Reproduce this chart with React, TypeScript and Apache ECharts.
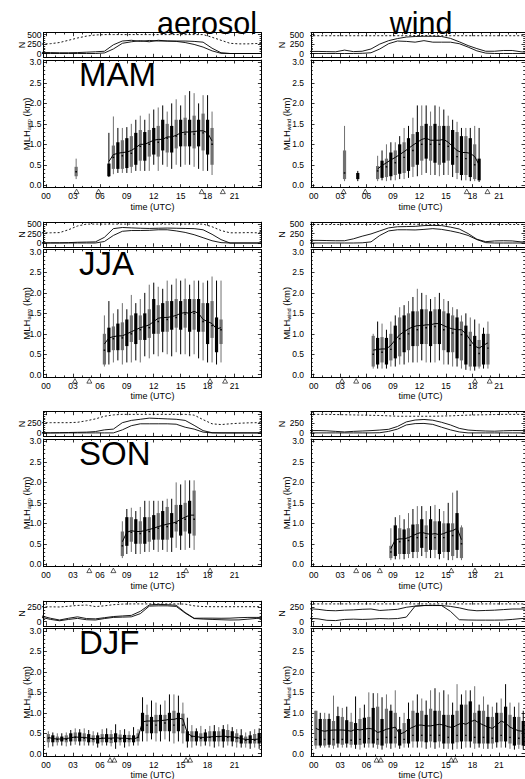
import React, { useEffect, useRef } from "react";
import * as echarts from "echarts";

// ---------- data ----------
const N_T = [-0.5, 0.5, 1.5, 2.5, 3.5, 4.5, 5.5, 6.5, 7.5, 8.5, 9.5, 10.5, 11.5, 12.5, 13.5, 14.5, 15.5, 16.5, 17.5, 18.5, 19.5, 20.5, 21.5, 22.5, 23.5, 24.5];

const X_MAJOR = [0, 3, 6, 9, 12, 15, 18, 21];
const X_MINOR = [1, 2, 4, 5, 7, 8, 10, 11, 13, 14, 16, 17, 19, 20, 22, 23];
const MLH_MAJOR = [0, 0.5, 1, 1.5, 2, 2.5, 3];
const MLH_MINOR = [0.1, 0.2, 0.3, 0.4, 0.6, 0.7, 0.8, 0.9, 1.1, 1.2, 1.3, 1.4, 1.6, 1.7, 1.8, 1.9, 2.1, 2.2, 2.3, 2.4, 2.6, 2.7, 2.8, 2.9];
const N_MINOR = [50, 100, 150, 200, 300, 350, 400, 450, 550];

const SEASONS = ["MAM", "JJA", "SON", "DJF"];
const COLUMN_TITLES = ["aerosol", "wind"];
const MLH_SUBSCRIPTS = ["aero", "wind"];

const N_RANGE = [[-100, 550], [-100, 550], [-90, 560], [-70, 355]];
const N_TICKS = [[0, 250, 500], [0, 250, 500], [0, 250, 500], [0, 250]];
const N_LABELS = [[0, 250, 500], [0, 250, 500], [0, 250], [0, 250]];

const TRI_MAM = [3.4, 5.85, 17.35, 19.7];
const TRI_JJA = [3.22, 4.82, 18.28, 19.95];
const TRI_SON = [4.82, 7.5, 15.6, 18.28];
const TRI_DJF = [7.13, 7.61, 15.6, 16.05];

// box rows: [time, whisker low, q1, median, q3, whisker high, mean]
const MAM_AERO = [
  [3.35, 0.15, 0.22, 0.33, 0.45, 0.65, null],
  [7.0, 0.2, 0.22, 0.35, 0.53, 1.28, 0.58],
  [7.5, 0.27, 0.4, 0.68, 0.97, 1.68, 0.75],
  [8.0, 0.3, 0.4, 0.7, 1.05, 1.4, 0.78],
  [8.5, 0.3, 0.4, 0.72, 1.1, 1.4, 0.8],
  [9.0, 0.3, 0.42, 0.72, 1.15, 1.42, 0.81],
  [9.5, 0.3, 0.45, 0.78, 1.2, 1.5, 0.85],
  [10.0, 0.35, 0.5, 0.85, 1.28, 1.6, 0.92],
  [10.5, 0.35, 0.6, 0.95, 1.35, 1.7, 1.0],
  [11.0, 0.35, 0.6, 0.95, 1.3, 1.6, 1.0],
  [11.5, 0.35, 0.7, 1.0, 1.35, 1.75, 1.05],
  [12.0, 0.5, 0.75, 1.05, 1.4, 1.85, 1.1],
  [12.5, 0.35, 0.7, 1.05, 1.45, 1.9, 1.12],
  [13.0, 0.5, 0.85, 1.1, 1.6, 1.95, 1.12],
  [13.5, 0.45, 0.8, 1.15, 1.5, 1.8, 1.18],
  [14.0, 0.4, 0.8, 1.15, 1.45, 2.0, 1.18],
  [14.5, 0.5, 0.9, 1.2, 1.6, 2.1, 1.22],
  [15.0, 0.45, 0.95, 1.25, 1.6, 1.95, 1.28],
  [15.5, 0.5, 0.95, 1.25, 1.65, 2.2, 1.3],
  [16.0, 0.5, 0.95, 1.25, 1.6, 2.3, 1.3],
  [16.5, 0.45, 0.9, 1.25, 1.7, 2.25, 1.31],
  [17.0, 0.4, 0.95, 1.28, 1.6, 2.0, 1.33],
  [17.5, 0.35, 0.85, 1.28, 1.75, 2.2, 1.33],
  [18.0, 0.35, 0.75, 1.25, 1.6, 2.2, 1.28],
  [18.5, 0.25, 0.5, 1.0, 1.4, 1.8, 1.08],
];

const MAM_WIND = [
  [3.5, 0.1, 0.15, 0.3, 0.85, 1.45, null],
  [5.0, 0.1, 0.15, 0.22, 0.3, 0.35, null],
  [7.25, 0.1, 0.15, 0.35, 0.47, 0.72, 0.4],
  [7.75, 0.12, 0.18, 0.4, 0.6, 0.85, 0.48],
  [8.25, 0.1, 0.2, 0.45, 0.65, 1.0, 0.55],
  [8.75, 0.12, 0.22, 0.5, 0.8, 1.05, 0.62],
  [9.25, 0.12, 0.25, 0.55, 0.85, 1.05, 0.68],
  [9.75, 0.15, 0.28, 0.62, 1.0, 1.2, 0.75],
  [10.25, 0.15, 0.3, 0.68, 1.05, 1.4, 0.82],
  [10.75, 0.18, 0.35, 0.75, 1.15, 1.45, 0.9],
  [11.25, 0.2, 0.45, 0.85, 1.25, 1.65, 0.98],
  [11.75, 0.22, 0.5, 0.95, 1.3, 1.95, 1.05],
  [12.25, 0.25, 0.6, 1.0, 1.45, 1.95, 1.12],
  [12.75, 0.3, 0.65, 1.05, 1.5, 1.95, 1.15],
  [13.25, 0.25, 0.6, 1.0, 1.45, 1.8, 1.1],
  [13.75, 0.25, 0.55, 1.0, 1.5, 1.95, 1.1],
  [14.25, 0.22, 0.5, 1.0, 1.45, 1.92, 1.1],
  [14.75, 0.25, 0.55, 1.02, 1.45, 1.85, 1.12],
  [15.25, 0.25, 0.6, 0.95, 1.45, 1.7, 1.05],
  [15.75, 0.2, 0.5, 0.85, 1.35, 1.6, 0.95],
  [16.25, 0.15, 0.3, 0.7, 1.3, 1.55, 0.85],
  [16.75, 0.12, 0.25, 0.65, 1.2, 1.4, 0.8],
  [17.25, 0.12, 0.25, 0.65, 1.2, 1.4, 0.8],
  [17.75, 0.1, 0.2, 0.6, 1.15, 1.4, 0.78],
  [18.25, 0.1, 0.15, 0.5, 1.0, 1.45, 0.7],
  [18.75, 0.08, 0.12, 0.35, 0.65, 1.4, 0.5],
];

const JJA_AERO = [
  [6.5, 0.2, 0.25, 0.6, 1.0, 1.45, 0.75],
  [7.0, 0.25, 0.55, 0.85, 1.15, 1.8, 0.9],
  [7.5, 0.3, 0.6, 0.88, 1.18, 1.5, 0.93],
  [8.0, 0.35, 0.6, 0.9, 1.25, 1.6, 0.95],
  [8.5, 0.25, 0.6, 0.9, 1.28, 1.75, 0.95],
  [9.0, 0.3, 0.7, 0.95, 1.35, 1.6, 1.0],
  [9.5, 0.3, 0.8, 1.0, 1.45, 1.95, 1.05],
  [10.0, 0.35, 0.75, 1.05, 1.5, 1.75, 1.1],
  [10.5, 0.3, 0.85, 1.1, 1.45, 1.85, 1.15],
  [11.0, 0.45, 0.85, 1.12, 1.5, 2.0, 1.18],
  [11.5, 0.4, 0.9, 1.15, 1.6, 2.2, 1.22],
  [12.0, 0.5, 1.0, 1.25, 1.85, 2.25, 1.3],
  [12.5, 0.45, 1.0, 1.3, 1.7, 2.15, 1.38],
  [13.0, 0.55, 1.05, 1.35, 1.75, 2.1, 1.4],
  [13.5, 0.5, 1.05, 1.35, 1.8, 2.3, 1.4],
  [14.0, 0.45, 1.1, 1.38, 1.8, 2.2, 1.42],
  [14.5, 0.55, 1.15, 1.4, 1.85, 2.35, 1.45],
  [15.0, 0.5, 1.1, 1.45, 1.8, 2.3, 1.5],
  [15.5, 0.5, 1.15, 1.48, 1.85, 2.35, 1.52],
  [16.0, 0.45, 1.05, 1.45, 1.85, 2.2, 1.5],
  [16.5, 0.5, 1.1, 1.5, 1.85, 2.3, 1.55],
  [17.0, 0.4, 1.05, 1.45, 1.85, 2.3, 1.5],
  [17.5, 0.35, 1.05, 1.3, 1.75, 2.25, 1.35],
  [18.0, 0.3, 0.75, 1.25, 1.75, 2.3, 1.3],
  [18.5, 0.3, 0.9, 1.2, 1.8, 2.4, 1.25],
  [19.0, 0.25, 0.55, 1.05, 1.4, 2.3, 1.12],
  [19.5, 0.3, 0.75, 1.1, 1.35, 2.3, 1.15],
];

const JJA_WIND = [
  [6.75, 0.15, 0.2, 0.5, 0.95, 1.0, 0.6],
  [7.25, 0.15, 0.25, 0.55, 0.9, 1.3, 0.62],
  [7.75, 0.15, 0.3, 0.55, 0.92, 1.25, 0.63],
  [8.25, 0.15, 0.25, 0.55, 0.9, 1.1, 0.63],
  [8.75, 0.2, 0.35, 0.62, 1.0, 1.3, 0.72],
  [9.25, 0.2, 0.4, 0.75, 1.2, 1.45, 0.85],
  [9.75, 0.25, 0.45, 0.88, 1.4, 1.65, 0.98],
  [10.25, 0.25, 0.55, 0.95, 1.45, 1.7, 1.05],
  [10.75, 0.3, 0.6, 1.0, 1.5, 1.8, 1.12],
  [11.25, 0.3, 0.7, 1.08, 1.55, 1.9, 1.17],
  [11.75, 0.3, 0.7, 1.1, 1.55, 2.1, 1.2],
  [12.25, 0.35, 0.75, 1.12, 1.6, 2.0, 1.2],
  [12.75, 0.3, 0.75, 1.15, 1.6, 1.95, 1.22],
  [13.25, 0.3, 0.7, 1.15, 1.55, 1.85, 1.22],
  [13.75, 0.3, 0.75, 1.18, 1.6, 1.9, 1.25],
  [14.25, 0.35, 0.75, 1.18, 1.6, 2.0, 1.25],
  [14.75, 0.25, 0.6, 1.1, 1.55, 1.85, 1.2],
  [15.25, 0.25, 0.55, 1.05, 1.5, 1.8, 1.15],
  [15.75, 0.2, 0.55, 1.02, 1.45, 1.65, 1.12],
  [16.25, 0.2, 0.4, 1.0, 1.4, 1.6, 1.1],
  [16.75, 0.15, 0.35, 0.98, 1.3, 1.45, 1.1],
  [17.25, 0.12, 0.25, 0.88, 1.2, 1.5, 1.0],
  [17.75, 0.1, 0.2, 0.72, 1.05, 1.4, 0.85],
  [18.25, 0.1, 0.2, 0.58, 0.95, 1.35, 0.7],
  [18.75, 0.15, 0.2, 0.52, 0.85, 1.25, 0.65],
  [19.25, 0.15, 0.25, 0.6, 1.0, 1.15, 0.72],
  [19.75, 0.15, 0.25, 0.65, 1.0, 1.3, 0.78],
];

const SON_AERO = [
  [8.5, 0.15, 0.2, 0.45, 0.8, 1.05, 0.55],
  [9.0, 0.25, 0.45, 0.75, 1.15, 1.35, 0.78],
  [9.5, 0.3, 0.55, 0.78, 1.15, 1.38, 0.82],
  [10.0, 0.25, 0.5, 0.75, 1.1, 1.3, 0.8],
  [10.5, 0.25, 0.5, 0.75, 1.05, 1.4, 0.8],
  [11.0, 0.3, 0.5, 0.78, 1.15, 1.55, 0.82],
  [11.5, 0.3, 0.55, 0.8, 1.15, 1.55, 0.85],
  [12.0, 0.35, 0.6, 0.85, 1.2, 1.55, 0.88],
  [12.5, 0.3, 0.6, 0.88, 1.25, 1.55, 0.92],
  [13.0, 0.35, 0.6, 0.9, 1.3, 1.55, 0.95],
  [13.5, 0.3, 0.6, 0.92, 1.4, 1.6, 0.98],
  [14.0, 0.3, 0.65, 0.95, 1.25, 1.6, 1.0],
  [14.5, 0.4, 0.8, 1.0, 1.45, 2.0, 1.03],
  [15.0, 0.35, 0.7, 1.05, 1.45, 1.95, 1.1],
  [15.5, 0.35, 0.8, 1.1, 1.5, 2.05, 1.15],
  [16.0, 0.4, 0.75, 1.12, 1.55, 2.05, 1.2],
  [16.5, 0.35, 0.7, 1.1, 1.8, 2.05, 1.2],
];

const SON_WIND = [
  [8.75, 0.1, 0.15, 0.3, 0.45, 0.88, 0.38],
  [9.25, 0.12, 0.2, 0.52, 0.95, 1.15, 0.6],
  [9.75, 0.12, 0.25, 0.55, 0.88, 1.2, 0.62],
  [10.25, 0.12, 0.25, 0.55, 0.85, 1.1, 0.62],
  [10.75, 0.15, 0.25, 0.58, 0.88, 1.25, 0.65],
  [11.25, 0.15, 0.3, 0.62, 0.97, 1.35, 0.7],
  [11.75, 0.15, 0.3, 0.65, 0.98, 1.42, 0.75],
  [12.25, 0.2, 0.4, 0.7, 1.1, 1.42, 0.78],
  [12.75, 0.15, 0.3, 0.65, 0.95, 1.3, 0.75],
  [13.25, 0.15, 0.35, 0.65, 1.1, 1.42, 0.73],
  [13.75, 0.15, 0.35, 0.65, 1.05, 1.45, 0.75],
  [14.25, 0.12, 0.25, 0.62, 1.05, 1.35, 0.72],
  [14.75, 0.15, 0.3, 0.65, 1.0, 1.3, 0.75],
  [15.25, 0.1, 0.3, 0.7, 1.0, 1.5, 0.8],
  [15.75, 0.1, 0.2, 0.7, 1.0, 1.75, 0.82],
  [16.25, 0.15, 0.35, 0.75, 1.25, 1.8, 0.88],
  [16.75, 0.1, 0.15, 0.5, 0.9, 0.95, 0.6],
];

const DJF_AERO = [
  [0.25, 0.15, 0.28, 0.38, 0.48, 0.55, 0.4],
  [0.75, 0.18, 0.28, 0.35, 0.45, 0.52, 0.37],
  [1.25, 0.2, 0.28, 0.35, 0.42, 0.5, 0.36],
  [1.75, 0.2, 0.3, 0.35, 0.42, 0.5, 0.36],
  [2.25, 0.18, 0.28, 0.35, 0.45, 0.52, 0.37],
  [2.75, 0.2, 0.3, 0.38, 0.5, 0.58, 0.39],
  [3.25, 0.22, 0.3, 0.4, 0.52, 0.62, 0.41],
  [3.75, 0.2, 0.3, 0.38, 0.52, 0.6, 0.4],
  [4.25, 0.2, 0.3, 0.38, 0.5, 0.62, 0.4],
  [4.75, 0.2, 0.28, 0.36, 0.48, 0.58, 0.38],
  [5.25, 0.2, 0.28, 0.35, 0.45, 0.55, 0.37],
  [5.75, 0.15, 0.25, 0.35, 0.45, 0.52, 0.36],
  [6.25, 0.2, 0.28, 0.38, 0.48, 0.6, 0.38],
  [6.75, 0.2, 0.28, 0.36, 0.48, 0.62, 0.38],
  [7.25, 0.18, 0.26, 0.36, 0.48, 0.58, 0.38],
  [7.75, 0.12, 0.28, 0.36, 0.5, 0.72, 0.39],
  [8.25, 0.2, 0.28, 0.36, 0.47, 0.58, 0.38],
  [8.75, 0.15, 0.28, 0.36, 0.46, 0.6, 0.38],
  [9.25, 0.18, 0.28, 0.36, 0.46, 0.55, 0.37],
  [9.75, 0.2, 0.28, 0.35, 0.45, 0.65, 0.36],
  [10.25, 0.2, 0.3, 0.4, 0.5, 0.6, 0.4],
  [10.75, 0.3, 0.55, 0.75, 1.0, 1.38, 0.78],
  [11.25, 0.3, 0.5, 0.7, 0.95, 1.2, 0.8],
  [11.75, 0.35, 0.5, 0.68, 0.9, 1.3, 0.8],
  [12.25, 0.3, 0.5, 0.7, 0.95, 1.25, 0.8],
  [12.75, 0.3, 0.55, 0.72, 0.95, 1.2, 0.81],
  [13.25, 0.35, 0.55, 0.75, 0.95, 1.3, 0.82],
  [13.75, 0.3, 0.55, 0.75, 1.0, 1.45, 0.84],
  [14.25, 0.25, 0.5, 0.7, 1.05, 1.45, 0.84],
  [14.75, 0.3, 0.55, 0.75, 1.0, 1.42, 0.87],
  [15.25, 0.25, 0.5, 0.7, 0.98, 1.25, 0.85],
  [15.75, 0.15, 0.3, 0.4, 0.55, 0.88, 0.5],
  [16.25, 0.15, 0.3, 0.42, 0.55, 0.7, 0.43],
  [16.75, 0.2, 0.3, 0.4, 0.55, 0.62, 0.42],
  [17.25, 0.18, 0.3, 0.38, 0.5, 0.68, 0.4],
  [17.75, 0.2, 0.3, 0.4, 0.52, 0.6, 0.4],
  [18.25, 0.18, 0.3, 0.4, 0.55, 0.68, 0.41],
  [18.75, 0.15, 0.3, 0.4, 0.55, 0.7, 0.42],
  [19.25, 0.18, 0.3, 0.42, 0.55, 0.65, 0.42],
  [19.75, 0.15, 0.3, 0.42, 0.6, 0.7, 0.43],
  [20.25, 0.2, 0.3, 0.4, 0.58, 0.72, 0.42],
  [20.75, 0.18, 0.3, 0.4, 0.55, 0.65, 0.41],
  [21.25, 0.15, 0.28, 0.38, 0.5, 0.6, 0.4],
  [21.75, 0.15, 0.25, 0.35, 0.45, 0.6, 0.37],
  [22.25, 0.15, 0.25, 0.33, 0.42, 0.52, 0.35],
  [22.75, 0.12, 0.25, 0.33, 0.45, 0.55, 0.35],
  [23.25, 0.15, 0.25, 0.33, 0.48, 0.6, 0.35],
  [23.75, 0.12, 0.25, 0.35, 0.5, 0.62, 0.36],
];

const DJF_WIND = [
  [0.25, 0.12, 0.2, 0.35, 1.05, 1.05, 0.62],
  [0.75, 0.15, 0.2, 0.35, 0.85, 1.0, 0.57],
  [1.25, 0.15, 0.2, 0.35, 0.85, 1.0, 0.55],
  [1.75, 0.15, 0.22, 0.35, 0.85, 0.98, 0.57],
  [2.25, 0.12, 0.2, 0.35, 0.8, 1.42, 0.58],
  [2.75, 0.15, 0.25, 0.35, 0.92, 1.15, 0.58],
  [3.25, 0.15, 0.22, 0.35, 0.9, 1.12, 0.58],
  [3.75, 0.15, 0.25, 0.35, 0.82, 1.15, 0.57],
  [4.25, 0.15, 0.22, 0.33, 0.78, 1.0, 0.55],
  [4.75, 0.12, 0.22, 0.35, 0.75, 1.4, 0.6],
  [5.25, 0.1, 0.22, 0.35, 0.85, 1.12, 0.58],
  [5.75, 0.15, 0.25, 0.35, 0.88, 1.2, 0.6],
  [6.25, 0.15, 0.25, 0.37, 0.9, 1.5, 0.62],
  [6.75, 0.15, 0.25, 0.4, 1.12, 1.48, 0.6],
  [7.25, 0.12, 0.22, 0.35, 1.15, 1.48, 0.52],
  [7.75, 0.1, 0.2, 0.35, 0.85, 1.38, 0.55],
  [8.25, 0.15, 0.25, 0.4, 1.1, 1.45, 0.6],
  [8.75, 0.12, 0.25, 0.4, 1.05, 1.2, 0.62],
  [9.25, 0.15, 0.25, 0.4, 1.0, 1.55, 0.65],
  [9.75, 0.12, 0.2, 0.3, 0.6, 0.9, 0.48],
  [10.25, 0.15, 0.25, 0.35, 0.75, 1.0, 0.52],
  [10.75, 0.15, 0.25, 0.4, 0.85, 1.25, 0.6],
  [11.25, 0.15, 0.3, 0.45, 1.05, 1.3, 0.65],
  [11.75, 0.15, 0.3, 0.45, 1.0, 1.45, 0.7],
  [12.25, 0.15, 0.3, 0.45, 1.05, 1.35, 0.7],
  [12.75, 0.12, 0.28, 0.45, 0.95, 1.3, 0.68],
  [13.25, 0.15, 0.3, 0.45, 1.1, 1.55, 0.68],
  [13.75, 0.12, 0.28, 0.42, 1.05, 1.6, 0.7],
  [14.25, 0.15, 0.3, 0.45, 1.05, 1.5, 0.72],
  [14.75, 0.12, 0.25, 0.42, 0.95, 1.55, 0.7],
  [15.25, 0.12, 0.25, 0.4, 0.95, 1.45, 0.66],
  [15.75, 0.1, 0.25, 0.4, 0.95, 1.25, 0.64],
  [16.25, 0.12, 0.28, 0.45, 1.05, 1.7, 0.7],
  [16.75, 0.12, 0.3, 0.45, 1.2, 1.45, 0.75],
  [17.25, 0.15, 0.3, 0.45, 1.2, 1.55, 0.72],
  [17.75, 0.15, 0.3, 0.5, 1.28, 1.55, 0.78],
  [18.25, 0.12, 0.25, 0.4, 1.0, 1.65, 0.82],
  [18.75, 0.15, 0.25, 0.4, 1.05, 1.2, 0.75],
  [19.25, 0.12, 0.25, 0.4, 1.05, 1.4, 0.7],
  [19.75, 0.12, 0.25, 0.38, 0.9, 1.2, 0.65],
  [20.25, 0.12, 0.25, 0.38, 0.9, 1.15, 0.62],
  [20.75, 0.15, 0.28, 0.4, 1.0, 1.25, 0.7],
  [21.25, 0.15, 0.3, 0.45, 1.0, 1.35, 0.8],
  [21.75, 0.15, 0.3, 0.5, 1.15, 1.7, 0.75],
  [22.25, 0.12, 0.25, 0.4, 0.95, 1.25, 0.65],
  [22.75, 0.1, 0.2, 0.35, 0.9, 1.15, 0.6],
  [23.25, 0.12, 0.22, 0.38, 0.9, 1.25, 0.56],
  [23.75, 0.1, 0.2, 0.35, 0.8, 1.05, 0.55],
];

// N (number of cases) curves at N_T: all days (dashed), two solid curves
const MAM_AERO_N_ALL = [250, 260, 290, 350, 410, 460, 490, 500, 500, 500, 500, 500, 500, 500, 500, 500, 500, 500, 500, 430, 350, 270, 255, 255, 265, 270];
const MAM_AERO_N_A = [30, 25, 20, 20, 25, 35, 45, 60, 230, 330, 350, 320, 345, 330, 330, 330, 330, 320, 300, 140, 20, 0, 0, 0, 0, 0];
const MAM_AERO_N_B = [0, 0, 0, 0, 0, 0, 0, 15, 120, 270, 310, 340, 310, 350, 330, 320, 290, 240, 170, 70, 5, 0, 0, 0, 0, 0];
const MAM_WIND_N_ALL = [470, 470, 470, 470, 470, 470, 470, 470, 470, 470, 470, 470, 475, 475, 470, 470, 470, 470, 470, 470, 470, 470, 470, 470, 470, 470];
const MAM_WIND_N_A = [55, 55, 50, 45, 90, 50, 60, 120, 250, 340, 395, 435, 450, 455, 455, 450, 400, 310, 210, 130, 60, 60, 80, 80, 45, 30];
const MAM_WIND_N_B = [0, 0, 0, 0, 0, 0, 5, 20, 120, 260, 330, 320, 300, 340, 300, 300, 300, 260, 170, 70, 10, 0, 0, 0, 0, 0];

const JJA_AERO_N_ALL = [270, 270, 275, 350, 450, 500, 500, 500, 500, 500, 500, 500, 500, 500, 500, 500, 500, 500, 500, 430, 330, 270, 270, 275, 270, 270];
const JJA_AERO_N_A = [5, 5, 5, 10, 20, 25, 30, 150, 380, 410, 400, 390, 385, 390, 395, 390, 385, 380, 350, 230, 90, 0, 0, 0, 0, 0];
const JJA_AERO_N_B = [0, 0, 0, 0, 0, 0, 0, 40, 200, 310, 330, 330, 335, 350, 350, 320, 280, 220, 140, 60, 10, 0, 0, 0, 0, 0];
const JJA_WIND_N_ALL = [490, 490, 490, 490, 490, 490, 490, 490, 490, 490, 490, 490, 495, 495, 490, 490, 490, 490, 490, 490, 490, 490, 490, 490, 490, 490];
const JJA_WIND_N_A = [70, 70, 65, 60, 60, 110, 180, 240, 320, 400, 430, 435, 440, 460, 465, 460, 420, 370, 250, 100, 35, 55, 60, 55, 30, 30];
const JJA_WIND_N_B = [0, 0, 0, 0, 0, 0, 5, 30, 200, 320, 350, 350, 345, 360, 380, 360, 320, 270, 200, 90, 10, 0, 0, 0, 0, 0];

const SON_AERO_N_ALL = [270, 270, 270, 270, 280, 320, 370, 440, 475, 490, 490, 490, 490, 490, 490, 490, 490, 470, 350, 240, 220, 240, 255, 265, 270, 270];
const SON_AERO_N_A = [5, 0, 5, 10, 15, 20, 35, 80, 100, 270, 330, 360, 390, 380, 370, 360, 330, 200, 60, 5, 0, 0, 0, 0, 0, 0];
const SON_AERO_N_B = [0, 0, 0, 0, 0, 0, 0, 0, 0, 80, 190, 240, 240, 240, 240, 230, 150, 100, 20, 0, 0, 0, 0, 0, 0, 0];
const SON_WIND_N_ALL = [490, 490, 490, 485, 480, 475, 470, 465, 460, 450, 440, 440, 440, 440, 440, 445, 450, 460, 470, 475, 480, 485, 490, 490, 490, 490];
const SON_WIND_N_A = [62, 62, 55, 40, 25, 40, 50, 60, 75, 95, 170, 290, 340, 355, 335, 280, 210, 120, 75, 60, 50, 45, 55, 62, 62, 62];
const SON_WIND_N_B = [0, 0, 0, 0, 0, 0, 0, 0, 5, 40, 100, 210, 245, 250, 225, 150, 80, 25, 0, 0, 0, 0, 0, 0, 0, 0];

const DJF_AERO_N_ALL = [260, 258, 255, 268, 282, 288, 262, 275, 295, 305, 308, 308, 308, 308, 308, 308, 305, 275, 262, 260, 260, 260, 260, 260, 260, 260];
const DJF_AERO_N_A = [100, 60, 30, 60, 85, 55, 50, 70, 90, 100, 110, 180, 290, 300, 295, 285, 160, 60, 62, 62, 60, 62, 70, 75, 75, 75];
const DJF_AERO_N_B = [75, 40, 17, 40, 58, 35, 30, 55, 75, 80, 85, 140, 270, 275, 275, 265, 150, 55, 46, 40, 35, 30, 32, 45, 58, 58];
const DJF_WIND_N_ALL = [308, 308, 308, 308, 308, 308, 308, 308, 308, 308, 308, 308, 308, 308, 308, 308, 308, 308, 308, 308, 308, 308, 308, 308, 308, 308];
const DJF_WIND_N_A = [225, 215, 195, 190, 200, 205, 215, 220, 195, 205, 215, 250, 270, 280, 280, 280, 265, 240, 205, 190, 195, 200, 210, 220, 220, 220];
const DJF_WIND_N_B = [60, 50, 25, 20, 40, 45, 40, 45, 55, 50, 55, 80, 270, 280, 285, 280, 180, 35, 30, 28, 28, 28, 30, 40, 55, 60];

const PANELS = [
  { row: 0, col: 0, boxes: MAM_AERO, nAll: MAM_AERO_N_ALL, nA: MAM_AERO_N_A, nB: MAM_AERO_N_B, tri: TRI_MAM },
  { row: 0, col: 1, boxes: MAM_WIND, nAll: MAM_WIND_N_ALL, nA: MAM_WIND_N_A, nB: MAM_WIND_N_B, tri: TRI_MAM },
  { row: 1, col: 0, boxes: JJA_AERO, nAll: JJA_AERO_N_ALL, nA: JJA_AERO_N_A, nB: JJA_AERO_N_B, tri: TRI_JJA },
  { row: 1, col: 1, boxes: JJA_WIND, nAll: JJA_WIND_N_ALL, nA: JJA_WIND_N_A, nB: JJA_WIND_N_B, tri: TRI_JJA },
  { row: 2, col: 0, boxes: SON_AERO, nAll: SON_AERO_N_ALL, nA: SON_AERO_N_A, nB: SON_AERO_N_B, tri: TRI_SON },
  { row: 2, col: 1, boxes: SON_WIND, nAll: SON_WIND_N_ALL, nA: SON_WIND_N_A, nB: SON_WIND_N_B, tri: TRI_SON },
  { row: 3, col: 0, boxes: DJF_AERO, nAll: DJF_AERO_N_ALL, nA: DJF_AERO_N_A, nB: DJF_AERO_N_B, tri: TRI_DJF },
  { row: 3, col: 1, boxes: DJF_WIND, nAll: DJF_WIND_N_ALL, nA: DJF_WIND_N_A, nB: DJF_WIND_N_B, tri: TRI_DJF },
];

// ---------- layout / style ----------
const FONT = "'Liberation Sans', Arial, Helvetica, sans-serif";
const GREY = "#707070";
const BLACK = "#000000";
const ROW_STEP = 189.5;
const N_TOP = 32.7;
const N_H = 24.6;
const M_TOP = 60;
const M_H = 127.7;
const COL_LEFT = [43.4, 311];
const COL_W = [218, 214];
const COL_XMAX = [24.0, 23.95];
const X_MIN = -0.3;
const M_MIN = -0.06;
const M_MAX = 3.06;
const Y_LABEL_MARGIN = [2, 7];
const TRI_Y = -0.15;
const BOX_W = 3.2;

const pad2 = (v: number) => (v < 10 ? "0" + v : String(v));

function buildOption() {
  const grid: any[] = [];
  const xAxis: any[] = [];
  const yAxis: any[] = [];
  const series: any[] = [];
  const graphic: any[] = [];

  const axis = (gridIndex: number, position: string, min: number, max: number, ticks: number[], len: number, showLine: boolean, label: any) => ({
    type: "value",
    gridIndex,
    position,
    min,
    max,
    axisLine: { show: showLine, onZero: false, lineStyle: { color: "#000", width: 1 } },
    axisTick: { show: true, inside: true, length: len, customValues: ticks, lineStyle: { color: "#000", width: 0.8 } },
    axisLabel: label
      ? { show: true, customValues: label.values, formatter: label.formatter, margin: label.margin, color: "#000", fontSize: 8.5, fontFamily: FONT }
      : { show: false },
    splitLine: { show: false },
    splitArea: { show: false },
  });

  const frame = (left: number, top: number, width: number, height: number, xMax: number, yMin: number, yMax: number,
    yMajor: number[], yMinor: number[], xLabel: any, yLabel: any) => {
    const g = grid.length;
    grid.push({ left, top, width, height, containLabel: false, outerBoundsMode: "none" });
    grid.push({ left, top, width, height, containLabel: false, outerBoundsMode: "none" });
    const xi = xAxis.length;
    xAxis.push(axis(g, "bottom", X_MIN, xMax, X_MAJOR, 3.5, true, xLabel));
    xAxis.push(axis(g, "top", X_MIN, xMax, X_MAJOR, 3.5, true, null));
    xAxis.push(axis(g + 1, "bottom", X_MIN, xMax, X_MINOR, 1.8, false, null));
    xAxis.push(axis(g + 1, "top", X_MIN, xMax, X_MINOR, 1.8, false, null));
    const yi = yAxis.length;
    yAxis.push(axis(g, "left", yMin, yMax, yMajor, 3.5, true, yLabel));
    yAxis.push(axis(g, "right", yMin, yMax, yMajor, 3.5, true, null));
    yAxis.push(axis(g + 1, "left", yMin, yMax, yMinor, 1.8, false, null));
    yAxis.push(axis(g + 1, "right", yMin, yMax, yMinor, 1.8, false, null));
    return { xi, yi };
  };

  const renderBox = (params: any, api: any) => {
    const t = api.value(0);
    const lo = api.coord([t, api.value(1)]);
    const q1 = api.coord([t, api.value(2)]);
    const md = api.coord([t, api.value(3)]);
    const q3 = api.coord([t, api.value(4)]);
    const hi = api.coord([t, api.value(5)]);
    const c = params.dataIndex % 2 === 0 ? GREY : BLACK;
    return {
      type: "group",
      children: [
        { type: "line", shape: { x1: lo[0], y1: lo[1], x2: hi[0], y2: hi[1] }, style: { stroke: c, lineWidth: 1 } },
        { type: "rect", shape: { x: q3[0] - BOX_W / 2, y: q3[1], width: BOX_W, height: q1[1] - q3[1] }, style: { fill: c } },
        { type: "rect", shape: { x: md[0] - 0.8, y: md[1] - 0.7, width: 1.6, height: 1.4 }, style: { fill: "#000" } },
      ],
    };
  };

  PANELS.forEach((p) => {
    const off = p.row * ROW_STEP;
    const left = COL_LEFT[p.col];
    const width = COL_W[p.col];
    const xMax = COL_XMAX[p.col];
    const nr = N_RANGE[p.row];

    const nf = frame(left, N_TOP + off, width, N_H, xMax, nr[0], nr[1], N_TICKS[p.row],
      N_MINOR.filter((v) => v < nr[1]), null,
      { values: N_LABELS[p.row], formatter: (v: number) => String(v), margin: Y_LABEL_MARGIN[p.col] });

    const nLine = (ys: number[], type: any) => ({
      type: "line", xAxisIndex: nf.xi, yAxisIndex: nf.yi, silent: true,
      data: N_T.map((t, i) => [t, ys[i]]), symbol: "none", clip: true,
      lineStyle: { color: "#000", width: 0.9, type },
    });
    series.push(nLine(p.nAll, [2, 2]));
    series.push(nLine(p.nA, "solid"));
    series.push(nLine(p.nB, "solid"));

    const mf = frame(left, M_TOP + off, width, M_H, xMax, M_MIN, M_MAX, MLH_MAJOR, MLH_MINOR,
      { values: X_MAJOR, formatter: pad2, margin: 4 },
      { values: MLH_MAJOR, formatter: (v: number) => v.toFixed(1), margin: Y_LABEL_MARGIN[p.col] });

    series.push({
      type: "custom", xAxisIndex: mf.xi, yAxisIndex: mf.yi, silent: true,
      data: p.boxes.map((r: any[]) => r.slice(0, 6)),
      encode: { x: 0, y: [1, 2, 3, 4, 5] },
      renderItem: renderBox,
      z: 2,
    });
    series.push({
      type: "line", xAxisIndex: mf.xi, yAxisIndex: mf.yi, silent: true,
      data: p.boxes.filter((r: any[]) => r[6] != null).map((r: any[]) => [r[0], r[6]]),
      symbol: "none", lineStyle: { color: "#000", width: 1 }, z: 3,
    });
    series.push({
      type: "scatter", xAxisIndex: mf.xi, yAxisIndex: mf.yi, silent: true, clip: false,
      data: p.tri.map((t) => [t, TRI_Y]),
      symbol: "triangle", symbolSize: [5, 4.5],
      itemStyle: { color: "rgba(255,255,255,0)", borderColor: "#000", borderWidth: 0.8 },
      z: 4,
    });

    // texts
    graphic.push({
      type: "text", x: p.col === 0 ? 152.4 : 420.5, y: 206.5 + off,
      style: { text: "time (UTC)", fill: "#000", font: `9px ${FONT}`, align: "center", verticalAlign: "middle", textAlign: "center", textVerticalAlign: "middle" },
    });
    graphic.push({
      type: "text", x: p.col === 0 ? 21.7 : 281.7, y: 45 + off, rotation: Math.PI / 2,
      style: { text: "N", fill: "#000", font: `9px ${FONT}`, align: "center", verticalAlign: "middle", textAlign: "center", textVerticalAlign: "middle" },
    });
    graphic.push({
      type: "text", x: p.col === 0 ? 26.7 : 286.7, y: 123.8 + off, rotation: Math.PI / 2,
      style: {
        text: `{m|MLH}{s|${MLH_SUBSCRIPTS[p.col]}}{m| (km)}`,
        rich: {
          m: { fontSize: 9.5, fontFamily: FONT, fill: "#000", verticalAlign: "bottom" },
          s: { fontSize: 5.5, fontFamily: FONT, fill: "#000", verticalAlign: "bottom" },
        },
        align: "center", verticalAlign: "middle", textAlign: "center", textVerticalAlign: "middle",
      },
    });
    if (p.col === 0) {
      graphic.push({
        type: "text", x: 79, y: 74 + off, z: 10,
        style: { text: SEASONS[p.row], fill: "#000", font: `33px ${FONT}`, align: "left", verticalAlign: "middle", textAlign: "left", textVerticalAlign: "middle" },
      });
    }
  });

  graphic.push({
    type: "text", x: 207, y: 22.9,
    style: { text: COLUMN_TITLES[0], fill: "#000", font: `30.5px ${FONT}`, align: "center", verticalAlign: "middle", textAlign: "center", textVerticalAlign: "middle" },
  });
  graphic.push({
    type: "text", x: 421, y: 22.9,
    style: { text: COLUMN_TITLES[1], fill: "#000", font: `30.5px ${FONT}`, align: "center", verticalAlign: "middle", textAlign: "center", textVerticalAlign: "middle" },
  });

  return {
    animation: false,
    backgroundColor: "#fff",
    textStyle: { fontFamily: FONT },
    grid,
    xAxis,
    yAxis,
    series,
    graphic: { elements: graphic },
  };
}

export default function App() {
  const ref = useRef<HTMLDivElement>(null);
  useEffect(() => {
    const chart = echarts.init(ref.current as HTMLDivElement, undefined, { renderer: "svg" });
    chart.setOption(buildOption() as any);
    return () => chart.dispose();
  }, []);
  return (
    <div
      ref={ref}
      style={{ position: "fixed", left: 0, top: 0, width: 525, height: 779, background: "#fff" }}
    />
  );
}
